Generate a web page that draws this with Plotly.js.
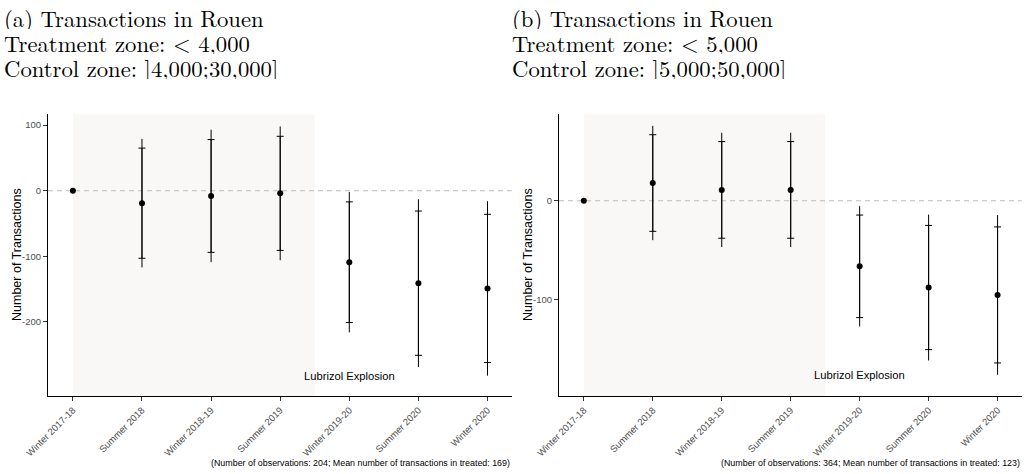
<!DOCTYPE html>
<html>
<head>
<meta charset="utf-8">
<script src="https://cdn.plot.ly/plotly-3.0.1.min.js"></script>
<style>
html,body{margin:0;padding:0;background:#fff;}
#chart{width:1024px;height:474px;}
</style>
</head>
<body>
<div id="chart"></div>
<script>
// ---- data ----
const periods = ["Winter 2017-18", "Summer 2018", "Winter 2018-19", "Summer 2019",
                 "Winter 2019-20", "Summer 2020", "Winter 2020"];

// Panel (a): treatment < 4,000 ; control ]4,000;30,000]
const estA   = [0, -19, -8, -4, -109, -141, -149];
const ci90A  = [null, 84, 86, 87, 92, 110, 113];
const ci95A  = [null, 98, 101, 102, 107, 128, 133];
const yTicksA = [-200, -100, 0, 100];

// Panel (b): treatment < 5,000 ; control ]5,000;50,000]
const estB   = [0, 18, 11, 11, -66.5, -88, -95.5];
const ci90B  = [null, 49, 49, 49, 52, 63, 69];
const ci95B  = [null, 58, 58, 58, 61, 74, 81];
const yTicksB = [-100, 0];

const titlesA = ["(a) Transactions in Rouen", "Treatment zone: < 4,000", "Control zone: ]4,000;30,000]"];
const titlesB = ["(b) Transactions in Rouen", "Treatment zone: < 5,000", "Control zone: ]5,000;50,000]"];
const notesA = "(Number of observations: 204; Mean number of transactions in treated: 169)";
const notesB = "(Number of observations: 364; Mean number of transactions in treated: 123)";
const eventLabel = "Lubrizol Explosion";
const eventPeriod = "Winter 2019-20";
const refValue = 0;
const yRangeA = [-313, 117];
const yRangeB = [-198, 88];
const yTitle = "Number of Transactions";

// ---- build ----
const toErr = a => a.map(v => (v === null ? NaN : v));
const eventIdx = periods.indexOf(eventPeriod);
const sans = "'Liberation Sans', Arial, sans-serif";

function panelTraces(est, c90, c95, xa, ya) {
  return [
    { type: 'scatter', mode: 'markers', x: periods, y: est, xaxis: xa, yaxis: ya,
      marker: {size: 1, color: 'rgba(0,0,0,0)'}, hoverinfo: 'skip', showlegend: false,
      error_y: {type: 'data', array: toErr(c95), visible: true, color: '#000', thickness: 1, width: 0} },
    { type: 'scatter', mode: 'markers', x: periods, y: est, xaxis: xa, yaxis: ya,
      marker: {size: 6, color: '#000'}, showlegend: false,
      error_y: {type: 'data', array: toErr(c90), visible: true, color: '#000', thickness: 1, width: 3.5} }
  ];
}

const data = [
  ...panelTraces(estA, ci90A, ci95A, 'x', 'y'),
  ...panelTraces(estB, ci90B, ci95B, 'x2', 'y2')
];

const xTickFont = {family: sans, size: 9.5, color: '#4d4d4d'};
const yTickFont = {family: sans, size: 9.5, color: '#4d4d4d'};
const xRange = [-0.36, periods.length - 1 + 0.35];
function xAxis(dom, anchor) {
  return { domain: dom, anchor: anchor, type: 'category', categoryorder: 'array', categoryarray: periods,
    range: xRange, showline: true, linecolor: '#000', linewidth: 1.1, ticks: 'outside', ticklen: 4,
    tickcolor: '#333', tickwidth: 1, showgrid: false, zeroline: false, tickangle: -45, tickfont: xTickFont,
    fixedrange: true };
}
function yAxis(range, ticks, anchor) {
  return { domain: [0.1646, 0.7595], anchor: anchor, range: range, tickmode: 'array', tickvals: ticks,
    ticktext: ticks.map(String),
    showline: true, linecolor: '#000', linewidth: 1.1, ticks: 'outside', ticklen: 4, tickcolor: '#333',
    tickwidth: 1, showgrid: false, zeroline: false, tickfont: yTickFont };
}

const serif = {family: "'Latin Modern Roman', 'CMU Serif', 'Liberation Serif', serif", size: 22.7, color: '#000'};
const annotations = [];
function addTitles(lines, xPaper) {
  lines.forEach((t, i) => {
    annotations.push({ xref: 'paper', yref: 'paper', x: xPaper, y: 1 - (17 + 25 * i) / 474,
      xanchor: 'left', yanchor: 'middle', text: t, showarrow: false, font: serif,
      height: 24, valign: 'middle', borderpad: 0 });
  });
}
addTitles(titlesA, 3 / 1024);
addTitles(titlesB, 511 / 1024);
[[notesA, 'x'], [notesB, 'x2']].forEach(([t, xr]) => {
  annotations.push({ xref: xr + ' domain', yref: 'paper', x: 1, y: 1 - 463 / 474, xanchor: 'right', yanchor: 'middle',
    text: t, showarrow: false, font: {family: sans, size: 8.9, color: '#000'} });
});
[['x', 'y', -282, 17], ['x2', 'y2', -177, 528]].forEach(([xr, yr, yv, titleX]) => {
  annotations.push({ xref: xr, yref: yr, x: eventPeriod, y: yv, text: eventLabel, showarrow: false,
    xanchor: 'center', yanchor: 'middle', font: {family: sans, size: 11.2, color: '#000'} });
  annotations.push({ xref: 'paper', yref: yr + ' domain', x: titleX / 1024, y: 0.5, text: yTitle, textangle: -90,
    showarrow: false, xanchor: 'center', yanchor: 'middle', font: {family: sans, size: 12.5, color: '#000'} });
});

const shapes = [];
[['x', 'y'], ['x2', 'y2']].forEach(([xr, yr]) => {
  shapes.push({ type: 'rect', xref: xr, yref: yr + ' domain', x0: 0, x1: eventIdx - 0.5, y0: 0, y1: 1,
    fillcolor: '#f9f8f6', line: {width: 0}, layer: 'below' });
  shapes.push({ type: 'line', xref: xr + ' domain', yref: yr, x0: 0, x1: 1, y0: refValue, y1: refValue,
    line: {color: '#bdbdbd', width: 1.2, dash: '5px,4px'}, layer: 'below' });
});

const layout = {
  width: 1024, height: 474, margin: {l: 0, r: 0, t: 0, b: 0},
  paper_bgcolor: '#fff', plot_bgcolor: 'rgba(0,0,0,0)', showlegend: false,
  xaxis: xAxis([48 / 1024, 511.7 / 1024], 'y'),
  yaxis: yAxis(yRangeA, yTicksA, 'x'),
  xaxis2: xAxis([559 / 1024, 1021.7 / 1024], 'y2'),
  yaxis2: yAxis(yRangeB, yTicksB, 'x2'),
  annotations: annotations, shapes: shapes
};

Plotly.newPlot('chart', data, layout, {displayModeBar: false, staticPlot: true});
</script>
</body>
</html>
